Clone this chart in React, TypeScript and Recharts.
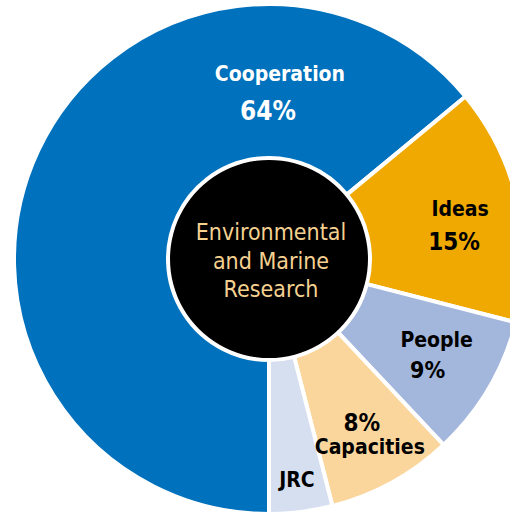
import { PieChart, Pie, Cell } from "recharts";

const categories = ["Cooperation", "Ideas", "People", "Capacities", "JRC"];
const shares = [64, 15, 9, 8, 4];
const sliceColors = ["#0071BC", "#F0A900", "#A3B6DC", "#FAD69C", "#D6DFF0"];
const centerLines = ["Environmental", "and Marine", "Research"];

const data = categories.map((name, i) => ({ name, value: shares[i] }));
const centerData = [{ name: centerLines.join(" "), value: 1 }];

const FONT = "'DejaVu Sans Condensed', 'Liberation Sans', Arial, sans-serif";
const RAD = Math.PI / 180;

// where each label block sits (radius from centre, optional angle override)
const labelSpots: Record<string, { r: number; angle?: number; nameDx: number; pctDx: number; pctFirst?: boolean; pctSize: number; gap: number }> = {
  Cooperation: { r: 167, angle: 88.3, nameDx: 6, pctDx: -6, pctSize: 26, gap: 18.5 },
  Ideas: { r: 191, angle: 10, nameDx: 3, pctDx: -3, pctSize: 24, gap: 16.5 },
  People: { r: 189, nameDx: 5, pctDx: -4, pctSize: 23, gap: 15 },
  Capacities: { r: 201, nameDx: 4, pctDx: -4, pctFirst: true, pctSize: 24, gap: 12 },
  JRC: { r: 223, nameDx: 0, pctDx: 0, pctSize: 24, gap: 0 },
};

const renderSliceLabel = (props: any) => {
  const { cx, cy, midAngle, index } = props;
  const name = categories[index];
  const spot = labelSpots[name];
  const ang = (spot.angle ?? midAngle) * RAD;
  const x = cx + spot.r * Math.cos(ang);
  const y = cy - spot.r * Math.sin(ang);
  const color = index === 0 ? "#FFFFFF" : "#000000";
  if (name === "JRC") {
    return (
      <text x={x} y={y} textAnchor="middle" dominantBaseline="central" fill={color}
        fontFamily={FONT} fontWeight="bold" fontSize={21}>
        {name}
      </text>
    );
  }
  const pct = `${shares[index]}%`;
  const nameY = spot.pctFirst ? y + spot.gap : y - spot.gap;
  const pctY = spot.pctFirst ? y - spot.gap : y + spot.gap;
  return (
    <g>
      <text x={x + spot.nameDx} y={nameY} textAnchor="middle" dominantBaseline="central"
        fill={color} fontFamily={FONT} fontWeight="bold" fontSize={21}>
        {name}
      </text>
      <text x={x + spot.pctDx} y={pctY} textAnchor="middle" dominantBaseline="central"
        fill={color} fontFamily={FONT} fontWeight="bold" fontSize={spot.pctSize}>
        {pct}
      </text>
    </g>
  );
};

const renderCenterLabel = (props: any) => {
  const { cx, cy } = props;
  return (
    <text textAnchor="middle" fill="#F5D190" fontFamily={FONT} fontSize={23}>
      {centerLines.map((line, i) => (
        <tspan key={line} x={cx + 2} y={cy - 27 + i * 28.5} dominantBaseline="central">
          {line}
        </tspan>
      ))}
    </text>
  );
};

export default function App() {
  return (
    <div style={{ position: "absolute", left: 0, top: 0, width: 510, height: 514, background: "#FFFFFF" }}>
      <PieChart width={510} height={514} margin={{ top: 0, right: 0, bottom: 0, left: 0 }}>
        <Pie
          data={data}
          dataKey="value"
          nameKey="name"
          cx={269}
          cy={259}
          innerRadius={101}
          outerRadius={255}
          startAngle={270}
          endAngle={-90}
          stroke="#FFFFFF"
          strokeWidth={4}
          label={renderSliceLabel}
          labelLine={false}
          isAnimationActive={false}
        >
          {data.map((d, i) => (
            <Cell key={d.name} fill={sliceColors[i]} />
          ))}
        </Pie>
        <Pie
          data={centerData}
          dataKey="value"
          cx={269}
          cy={259}
          innerRadius={0}
          outerRadius={99}
          fill="#000000"
          stroke="none"
          label={renderCenterLabel}
          labelLine={false}
          isAnimationActive={false}
        />
      </PieChart>
    </div>
  );
}
